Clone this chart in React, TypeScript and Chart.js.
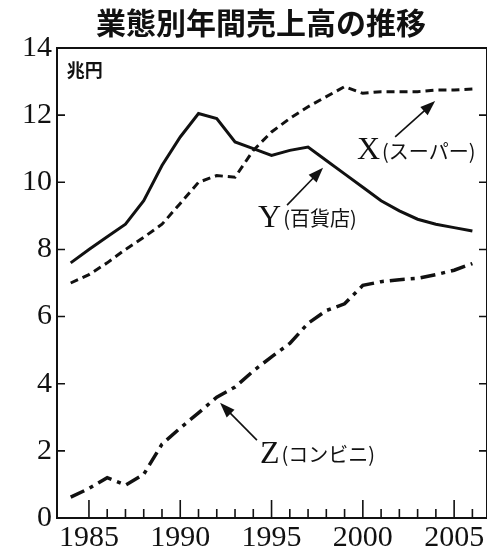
import React, { useEffect, useRef } from "react";
import { Chart, registerables } from "chart.js";

Chart.register(...registerables);

const years = [1984, 1985, 1986, 1987, 1988, 1989, 1990, 1991, 1992, 1993, 1994, 1995, 1996, 1997, 1998, 1999, 2000, 2001, 2002, 2003, 2004, 2005, 2006];
// X (スーパー)
const superValues = [7.0, 7.25, 7.6, 8.0, 8.36, 8.75, 9.37, 10.0, 10.2, 10.15, 10.95, 11.5, 11.9, 12.25, 12.55, 12.85, 12.65, 12.7, 12.7, 12.7, 12.75, 12.75, 12.78];
// Y (百貨店)
const deptValues = [7.6, 8.0, 8.38, 8.75, 9.45, 10.5, 11.35, 12.05, 11.9, 11.2, 11.0, 10.8, 10.95, 11.05, 10.65, 10.25, 9.85, 9.45, 9.15, 8.9, 8.75, 8.65, 8.55];
// Z (コンビニ)
const convValues = [0.62, 0.88, 1.2, 0.98, 1.3, 2.2, 2.68, 3.13, 3.6, 3.9, 4.38, 4.8, 5.2, 5.8, 6.18, 6.38, 6.93, 7.04, 7.1, 7.14, 7.25, 7.38, 7.58];

const yTicks = [0, 2, 4, 6, 8, 10, 12, 14];
const xLabelYears = [1985, 1990, 1995, 2000, 2005];
const xMinorYears = [1985, 1986, 1987, 1988, 1989, 1990, 1991, 1992, 1993, 1994, 1995, 1996, 1997, 1998, 1999, 2000, 2001, 2002, 2003, 2004, 2005, 2006];

const titleText = "業態別年間売上高の推移";
const unitText = "兆円";

const annotations = [
  { letter: "X", sub: "(スーパー)", at: [1999.68, 10.96], from: [2001.77, 11.35], to: [2003.96, 12.42] },
  { letter: "Y", sub: "(百貨店)", at: [1994.26, 8.94], from: [1995.85, 9.32], to: [1997.82, 10.43] },
  { letter: "Z", sub: "(コンビニ)", at: [1994.37, 1.91], from: [1994.2, 2.32], to: [1992.18, 3.43] },
];

const SERIF = '"Liberation Serif", "DejaVu Serif", serif';
const JP = '"Noto Sans CJK JP", "Noto Sans", sans-serif';

const decorPlugin = {
  id: "decor",
  afterDraw(chart: any) {
    const { ctx, chartArea: a, scales } = chart;
    const xs = scales.x;
    const ys = scales.y;
    ctx.save();
    // frame
    ctx.strokeStyle = "#111";
    ctx.lineWidth = 2;
    ctx.strokeRect(a.left, a.top, a.right - a.left, a.bottom - a.top);
    // ticks
    ctx.lineWidth = 1.6;
    ctx.beginPath();
    for (const v of yTicks) {
      const y = ys.getPixelForValue(v);
      ctx.moveTo(a.left, y);
      ctx.lineTo(a.left + 8, y);
      ctx.moveTo(a.right, y);
      ctx.lineTo(a.right - 8, y);
    }
    for (const yr of xMinorYears) {
      const x = xs.getPixelForValue(yr);
      const len = yr % 5 === 0 ? 18 : 9;
      ctx.moveTo(x, a.bottom);
      ctx.lineTo(x, a.bottom - len);
    }
    ctx.stroke();

    // title
    ctx.fillStyle = "#111";
    ctx.font = `bold 30px ${JP}`;
    ctx.textAlign = "center";
    ctx.textBaseline = "middle";
    ctx.fillText(titleText, (a.left + a.right) / 2 - 11, 23);

    // unit
    ctx.font = `bold 18px ${JP}`;
    ctx.textAlign = "left";
    ctx.fillText(unitText, xs.getPixelForValue(1983.79), ys.getPixelForValue(13.35));

    // annotations
    for (const an of annotations) {
      const x0 = xs.getPixelForValue(an.at[0]);
      const y0 = ys.getPixelForValue(an.at[1]);
      ctx.font = `32px ${SERIF}`;
      ctx.textAlign = "left";
      ctx.textBaseline = "middle";
      ctx.fillText(an.letter, x0, y0 + 1);
      const w = ctx.measureText(an.letter).width;
      ctx.font = `20px ${JP}`;
      ctx.fillText(an.sub, x0 + w + 2, y0 + 1);

      const fx = xs.getPixelForValue(an.from[0]);
      const fy = ys.getPixelForValue(an.from[1]);
      const tx = xs.getPixelForValue(an.to[0]);
      const ty = ys.getPixelForValue(an.to[1]);
      const ang = Math.atan2(ty - fy, tx - fx);
      const headLen = 15;
      const headW = 5.5;
      ctx.lineWidth = 1.6;
      ctx.beginPath();
      ctx.moveTo(fx, fy);
      ctx.lineTo(tx - Math.cos(ang) * headLen * 0.8, ty - Math.sin(ang) * headLen * 0.8);
      ctx.stroke();
      ctx.beginPath();
      ctx.moveTo(tx, ty);
      ctx.lineTo(tx - Math.cos(ang) * headLen - Math.sin(ang) * headW, ty - Math.sin(ang) * headLen + Math.cos(ang) * headW);
      ctx.lineTo(tx - Math.cos(ang) * headLen + Math.sin(ang) * headW, ty - Math.sin(ang) * headLen - Math.cos(ang) * headW);
      ctx.closePath();
      ctx.fill();
    }
    ctx.restore();
  },
};

function toPoints(vals: number[]) {
  return years.map((yr, i) => ({ x: yr, y: vals[i] }));
}

export default function App() {
  const ref = useRef<HTMLCanvasElement | null>(null);

  useEffect(() => {
    if (!ref.current) return;
    const chart = new Chart(ref.current, {
      type: "line",
      data: {
        datasets: [
          {
            label: "X(スーパー)",
            data: toPoints(superValues),
            borderColor: "#111",
            borderWidth: 3,
            borderDash: [8, 5],
            pointRadius: 0,
            tension: 0,
            fill: false,
          },
          {
            label: "Y(百貨店)",
            data: toPoints(deptValues),
            borderColor: "#111",
            borderWidth: 3,
            pointRadius: 0,
            tension: 0,
            fill: false,
          },
          {
            label: "Z(コンビニ)",
            data: toPoints(convValues),
            borderColor: "#111",
            borderWidth: 3.5,
            borderDash: [15, 6, 4, 6],
            pointRadius: 0,
            tension: 0,
            fill: false,
          },
        ],
      },
      options: {
        animation: false,
        responsive: false,
        maintainAspectRatio: false,
        devicePixelRatio: 1,
        layout: { padding: { top: 48, left: 0, right: 0, bottom: 0 } },
        plugins: {
          legend: { display: false },
          title: { display: false },
          tooltip: { enabled: false },
        },
        scales: {
          x: {
            type: "linear",
            min: 1983.25,
            max: 2006.8,
            grid: { display: false, drawTicks: false },
            border: { display: false },
            afterBuildTicks: (scale: any) => {
              scale.ticks = xLabelYears.map((v) => ({ value: v }));
            },
            afterFit: (scale: any) => {
              scale.height = 33;
            },
            ticks: {
              autoSkip: false,
              maxRotation: 0,
              padding: 2,
              color: "#111",
              font: { family: SERIF, size: 30 },
              callback: (v: any) => String(v),
            },
          },
          y: {
            min: 0,
            max: 14,
            grid: { display: false, drawTicks: false },
            border: { display: false },
            afterBuildTicks: (scale: any) => {
              scale.ticks = yTicks.map((v) => ({ value: v }));
            },
            afterFit: (scale: any) => {
              scale.width = 57;
            },
            ticks: {
              autoSkip: false,
              padding: 5,
              color: "#111",
              font: { family: SERIF, size: 30 },
              callback: (v: any) => String(v),
            },
          },
        },
      },
      plugins: [decorPlugin],
    } as any);
    return () => chart.destroy();
  }, []);

  return (
    <div style={{ position: "fixed", left: 0, top: 0, width: 487, height: 551, background: "#fff" }}>
      <canvas ref={ref} width={487} height={551} style={{ display: "block", width: 487, height: 551 }} />
    </div>
  );
}
